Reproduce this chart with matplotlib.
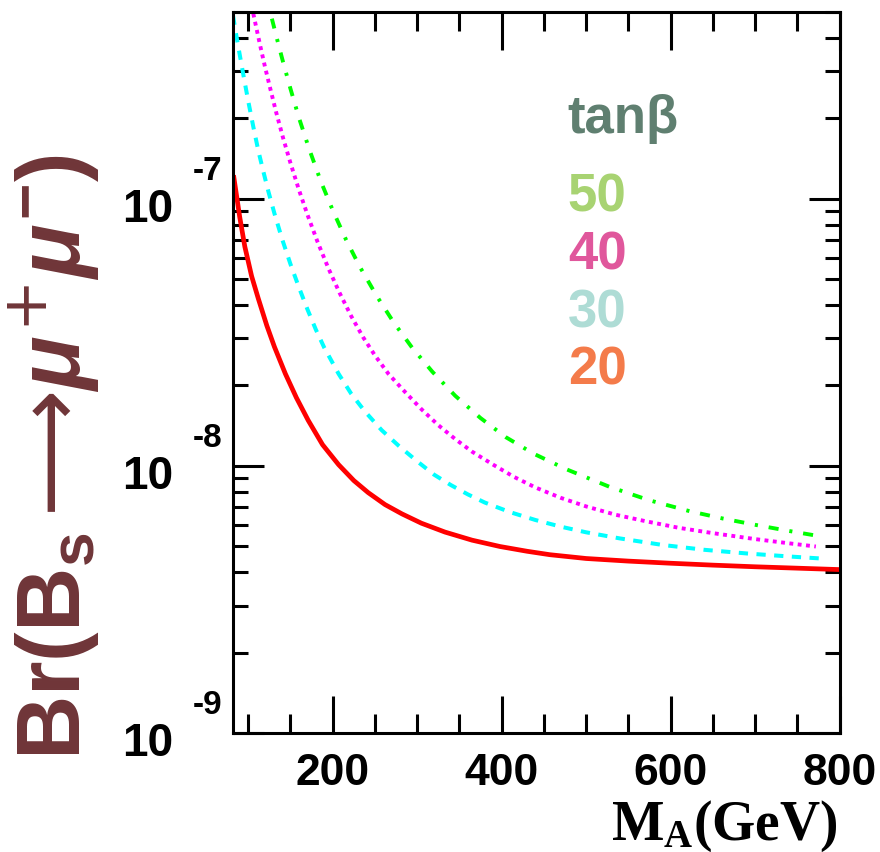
import numpy as np
import matplotlib
matplotlib.use("Agg")
import matplotlib.pyplot as plt
from matplotlib import transforms
from matplotlib.ticker import MultipleLocator, LogLocator, NullFormatter

plt.rcParams["font.family"] = ["Liberation Sans", "DejaVu Sans"]
plt.rcParams["font.weight"] = "bold"
plt.rcParams["mathtext.fontset"] = "custom"
plt.rcParams["mathtext.sf"] = "Liberation Sans:bold"
plt.rcParams["mathtext.it"] = "Liberation Sans:italic"
plt.rcParams["mathtext.rm"] = "DejaVu Sans:weight=normal"
plt.rcParams["mathtext.bf"] = "Liberation Serif:bold"

# data: M_A (GeV) vs Br(Bs -> mu mu), one curve per tan(beta)
m_tb20 = [83, 90, 96, 104, 112, 122, 131, 144, 157, 171, 188, 207, 225, 242, 262, 282, 305,
          333, 365, 398, 430, 457, 500, 550, 600, 650, 700, 750, 800]
br_tb20 = [1.20e-7, 8.51e-8, 6.61e-8, 5.13e-8, 4.22e-8, 3.35e-8, 2.79e-8, 2.21e-8, 1.80e-8,
           1.48e-8, 1.20e-8, 1.01e-8, 8.81e-9, 7.94e-9, 7.16e-9, 6.61e-9, 6.10e-9, 5.65e-9,
           5.27e-9, 4.99e-9, 4.79e-9, 4.65e-9, 4.50e-9, 4.40e-9, 4.32e-9, 4.25e-9, 4.19e-9,
           4.14e-9, 4.09e-9]

m_tb30 = [82, 86, 90, 95, 100, 106, 112, 118, 124, 131, 140, 150, 160, 170, 180, 190, 207,
          222, 238, 258, 278, 300, 320, 340, 360, 380, 410, 440, 470, 500, 540, 590, 640,
          690, 740, 778]
br_tb30 = [4.84e-7, 4.07e-7, 3.45e-7, 2.82e-7, 2.32e-7, 1.86e-7, 1.51e-7, 1.26e-7, 1.06e-7,
           8.81e-8, 7.08e-8, 5.69e-8, 4.66e-8, 3.86e-8, 3.24e-8, 2.77e-8, 2.21e-8, 1.86e-8,
           1.60e-8, 1.36e-8, 1.19e-8, 1.04e-8, 9.27e-9, 8.47e-9, 7.82e-9, 7.29e-9, 6.71e-9,
           6.27e-9, 5.92e-9, 5.64e-9, 5.35e-9, 5.06e-9, 4.85e-9, 4.70e-9, 4.58e-9, 4.50e-9]

m_tb40 = [106, 110, 115, 120, 126, 133, 141, 150, 160, 170, 182, 195, 208, 222, 236, 250,
          266, 285, 305, 325, 345, 365, 390, 415, 440, 470, 500, 535, 570, 610, 650, 700,
          740, 772]
br_tb40 = [4.93e-7, 4.30e-7, 3.64e-7, 3.10e-7, 2.59e-7, 2.11e-7, 1.70e-7, 1.36e-7, 1.08e-7,
           8.73e-8, 6.90e-8, 5.48e-8, 4.45e-8, 3.63e-8, 3.03e-8, 2.59e-8, 2.21e-8, 1.90e-8,
           1.63e-8, 1.42e-8, 1.26e-8, 1.13e-8, 1.01e-8, 9.08e-9, 8.30e-9, 7.59e-9, 7.05e-9,
           6.56e-9, 6.21e-9, 5.86e-9, 5.60e-9, 5.32e-9, 5.13e-9, 4.99e-9]

m_tb50 = [128, 134, 141, 150, 160, 172, 186, 200, 216, 232, 252, 272, 294, 318, 345, 375,
          405, 438, 477, 528, 575, 623, 662, 702, 741, 780]
br_tb50 = [4.72e-7, 3.97e-7, 3.27e-7, 2.58e-7, 2.01e-7, 1.54e-7, 1.16e-7, 9.06e-8, 7.00e-8,
           5.57e-8, 4.33e-8, 3.45e-8, 2.77e-8, 2.25e-8, 1.83e-8, 1.51e-8, 1.28e-8, 1.11e-8,
           9.70e-9, 8.34e-9, 7.43e-9, 6.76e-9, 6.35e-9, 6.00e-9, 5.70e-9, 5.43e-9]

y_ticks = [1e-9, 1e-8, 1e-7]
y_tick_exp = ["-9", "-8", "-7"]
legend_labels = ["50", "40", "30", "20"]
legend_colors = ["#a8d372", "#e0579c", "#aedcd5", "#f47b4a"]

fig = plt.figure(figsize=(8.8, 8.53), dpi=100)
ax = fig.add_axes([0.2648, 0.1395, 0.6892, 0.8453])

ax.plot(m_tb50, br_tb50, color="#00ff00", lw=2.8, ls=(0, (2.6, 2.8, 0.8, 2.8)))
ax.plot(m_tb40, br_tb40, color="#ff00ff", lw=2.8, ls=(0, (1.0, 1.15)))
ax.plot(m_tb30, br_tb30, color="#00ffff", lw=2.9, ls=(0, (2.3, 2.1)))
ax.plot(m_tb20, br_tb20, color="#ff0000", lw=3.4)

ax.set_yscale("log")
ax.set_xlim(82, 800)
ax.set_ylim(1e-9, 5e-7)

ax.xaxis.set_major_locator(MultipleLocator(200))
ax.xaxis.set_minor_locator(MultipleLocator(50))
ax.yaxis.set_major_locator(LogLocator(base=10))
ax.yaxis.set_minor_locator(LogLocator(base=10, subs=np.arange(2, 10)))
ax.yaxis.set_major_formatter(NullFormatter())
ax.yaxis.set_minor_formatter(NullFormatter())

for s in ax.spines.values():
    s.set_linewidth(2.2)

ax.tick_params(axis="x", which="major", direction="in", length=27, width=2.2,
               top=True, labelsize=32, pad=14)
ax.tick_params(axis="x", which="minor", direction="in", length=14, width=2.2, top=True)
ax.tick_params(axis="y", which="major", direction="in", length=22, width=2.2, right=True)
ax.tick_params(axis="y", which="minor", direction="in", length=11, width=2.2, right=True)

# y tick labels drawn as 10 with a raised exponent
trans = transforms.blended_transform_factory(ax.transAxes, ax.transData)
t_base = transforms.offset_copy(trans, fig=fig, x=-60, y=-22, units="dots")
t_exp = transforms.offset_copy(trans, fig=fig, x=-40, y=20, units="dots")
for v, e in zip(y_ticks, y_tick_exp):
    ax.text(0, v, "10", transform=t_base, ha="right", va="baseline", fontsize=33,
            fontweight="bold", clip_on=False)
    ax.text(0, v, e, transform=t_exp, ha="left", va="baseline", fontsize=24,
            fontweight="bold", clip_on=False)

# tan beta key
ax.text(0.552, 0.8336, "tanβ", transform=ax.transAxes, color="#5f7f70",
        fontsize=38, fontweight="bold", va="baseline")
for i, (lab, c) in enumerate(zip(legend_labels, legend_colors)):
    ax.text(0.552, 0.724 - i * 0.0799, lab, transform=ax.transAxes, color=c,
            fontsize=38, fontweight="bold", va="baseline")

ylab = r"$\mathsf{Br(B_{s}}\,\mathrm{⟶}\mu^{+}\mu^{\mathsf{-}}\mathsf{)}$"
fig.text(0.062, 0.464, ylab, rotation=90, ha="center", va="center",
         fontsize=64, color="#6f3538")
fig.text(0.952, 0.0152, r"$\mathbf{M_A(GeV)}$", ha="right", va="baseline", fontsize=40)

fig.savefig("out.png", dpi=100)
